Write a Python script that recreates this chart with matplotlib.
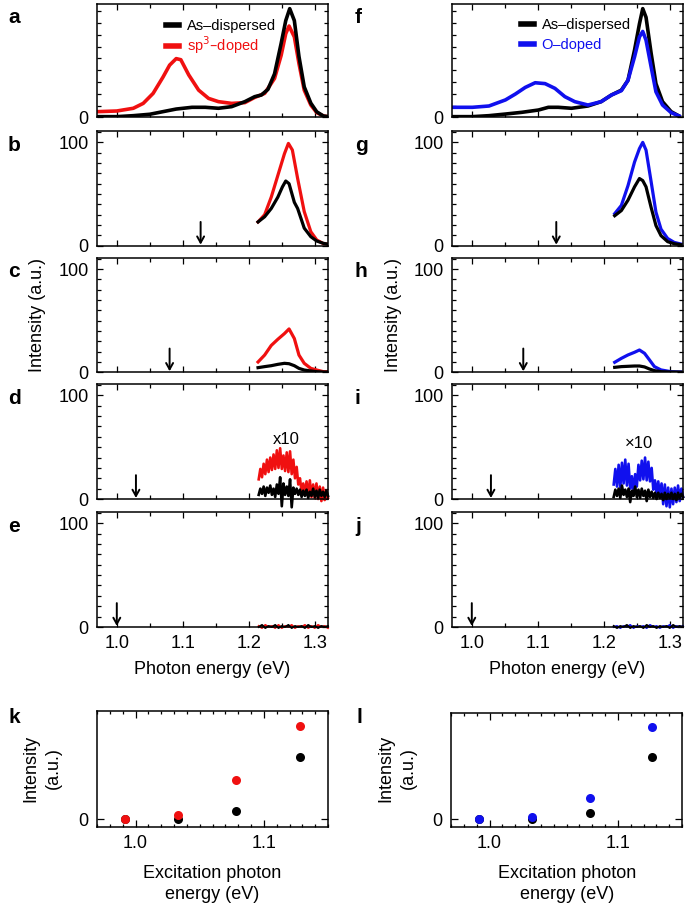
import numpy as np
import matplotlib
matplotlib.use('Agg')
import matplotlib.pyplot as plt
from matplotlib.ticker import MultipleLocator, FixedLocator, NullFormatter

plt.rcParams['font.family'] = ['Liberation Sans', 'DejaVu Sans']

RED = '#f01010'
BLUE = '#1010ee'

# ---------------- data ----------------
# panel a
E_a_black = [0.971, 1.000, 1.025, 1.050, 1.075, 1.090, 1.114, 1.134, 1.154, 1.174, 1.194, 1.209, 1.219,
             1.229, 1.239, 1.249, 1.256, 1.262, 1.269, 1.276, 1.284, 1.294, 1.303, 1.313, 1.320]
a_black = [0.6, 0.6, 1.5, 2.8, 5.8, 7.6, 9.2, 9.2, 8.3, 9.8, 14.4, 19, 20.5,
           25.7, 40, 68, 89, 100, 89, 56, 28, 13, 5, 1.2, 0.6]
E_a_red = [0.971, 1.000, 1.025, 1.040, 1.055, 1.070, 1.080, 1.090, 1.097, 1.109, 1.124, 1.139, 1.154, 1.174,
           1.194, 1.209, 1.224, 1.239, 1.249, 1.256, 1.261, 1.269, 1.276, 1.284, 1.294, 1.303, 1.313, 1.320]
a_red = [5.2, 5.8, 8.3, 12.8, 22, 37, 48, 54, 53, 39, 25, 17.4, 14.4, 12.8,
         13.5, 18.3, 22, 35.8, 57, 77, 84, 74, 49.5, 25, 11.3, 4.3, 1.2, 0.6]

# panel f
E_f_black = [0.968, 1.001, 1.026, 1.051, 1.076, 1.101, 1.116, 1.131, 1.151, 1.176, 1.196, 1.2115,
             1.2266, 1.2366, 1.2466, 1.254, 1.259, 1.264, 1.2717, 1.279, 1.289, 1.302, 1.314]
f_black = [0.6, 0.6, 1.5, 3, 4.6, 6.7, 9.2, 9.2, 8.3, 10.4, 14.4, 20.5,
           25, 34, 62, 86, 100, 92, 59, 31, 14.4, 5.2, 1.2]
E_f_blue = [0.968, 1.001, 1.026, 1.051, 1.066, 1.081, 1.096, 1.111, 1.126, 1.141, 1.156, 1.176, 1.196,
            1.2115, 1.2266, 1.2366, 1.2466, 1.254, 1.259, 1.264, 1.2717, 1.279, 1.289, 1.302, 1.314]
f_blue = [9.2, 9.2, 10.4, 16, 21.4, 27.5, 31.8, 31, 26.6, 19, 14.4, 11.3, 14.4,
          20.5, 24.5, 34, 55.7, 74, 79, 71, 46.5, 23.5, 11.3, 4.3, 1.2]

# panel b
E_b_black = [1.214, 1.224, 1.234, 1.244, 1.251, 1.256, 1.261, 1.269, 1.274, 1.284, 1.294, 1.303, 1.313, 1.320]
b_black = [23, 28, 36, 47, 57, 62.6, 60, 42, 36, 17, 8.7, 4.5, 2.3, 1.5]
E_b_red = [1.214, 1.224, 1.234, 1.244, 1.254, 1.260, 1.266, 1.274, 1.284, 1.294, 1.303, 1.313, 1.320]
b_red = [23, 30, 47, 68, 89, 99, 92.6, 65, 33, 13.5, 5.5, 2, 1.5]

# panel c
E_c = [1.214, 1.224, 1.234, 1.244, 1.254, 1.261, 1.269, 1.276, 1.284, 1.294, 1.303, 1.313, 1.320]
c_red = [10, 16.7, 26, 32, 37.5, 42, 32.7, 16.7, 8.7, 3.8, 2.2, 0.6, 0.5]
c_black = [4.5, 5.5, 6.4, 7.7, 8.7, 8.3, 6.4, 3.8, 2.2, 1.3, 0.6, 0.3, 0.3]

# panel g
E_g = [1.2165, 1.2266, 1.2366, 1.2466, 1.254, 1.259, 1.264, 1.2717, 1.279, 1.2867, 1.2967, 1.3067, 1.3168]
g_blue = [31, 39, 58, 81, 94, 100, 92.5, 62, 32.5, 16, 7, 3.2, 1.6]
g_black = [29, 34, 44, 57, 65, 63, 57, 37, 19.5, 9.7, 3.9, 1.9, 1]

# panel h
E_h = [1.2165, 1.2266, 1.2366, 1.2466, 1.254, 1.2617, 1.2692, 1.2767, 1.2867, 1.3017, 1.3168]
h_blue = [9.7, 13.5, 16.8, 19.4, 21.6, 18.4, 12, 5.5, 2.3, 0.6, 0.3]
h_black = [4.8, 5.5, 5.8, 6.1, 6.1, 5.2, 3.2, 1.6, 0.6, 0.3, 0.2]

# noisy panels d / i (x10), sampled every 2.5 meV from 1.215 to 1.320 eV
E_noise = np.linspace(1.215, 1.320, 43)
d_red = [19, 29, 21, 34, 24, 38, 26, 40, 28, 43, 29, 47, 30, 49, 29, 42, 27, 45, 26, 46, 24, 38,
         20, 31, 14, 20, 7, 15, 4, 17, 3, 18, 2, 14, 1, 15, 0, 12, -2, 11, -1, 8, 1]
d_black = [4, 10, 5, 12, 3, 11, 6, 13, 4, 10, 2, 14, 5, 21, -7, 15, 4, 12, 3, 19, -8, 11,
           5, 10, 4, 9, 2, 8, 3, 9, 1, 7, 3, 10, 2, 8, 1, 9, 3, 7, 2, 8, 3]
i_blue = [14, 29, 12, 33, 11, 35, 15, 38, 13, 34, 10, 22, 8, 24, 12, 33, 18, 37, 19, 40, 18, 36,
          17, 30, 9, 18, 5, 17, 3, 15, -5, 14, -7, 11, -8, 10, -5, 11, -3, 13, -2, 10, 2]
i_black = [2, 9, 3, 10, 1, 13, 4, 9, 2, 10, -3, 8, 3, 12, 2, 9, 1, 10, 3, 8, -2, 9,
           2, 7, 1, 6, 0, 6, 1, 5, -1, 6, 0, 5, 1, 6, 0, 5, -1, 6, 1, 5, 2]

# panels e / j, sampled every 5 meV
E_weak = np.linspace(1.215, 1.320, 22)
e_red = [1, -1, 2, 0, 1, -1, 2, -1, 1, 0, 2, -1, 1, 0, 2, -1, 1, -1, 2, 0, 1, -1]
e_black = [0, 2, -1, 1, 0, 2, -1, 1, 0, 2, -1, 1, 0, 1, -1, 2, 0, 1, -1, 1, 0, 1]
j_blue = [0, 1, -1, 1, 0, 2, -1, 1, 0, 1, -1, 2, 0, 1, -1, 1, 0, 2, -1, 1, 0, 1]
j_black = [1, -1, 1, 0, 2, -1, 1, 0, 1, -1, 2, 0, 1, -1, 1, 0, 1, -1, 2, 0, 1, 0]

# excitation energies (arrows) for b-e and g-j
arrow_left = [1.127, 1.080, 1.029, 1.000]
arrow_right = [1.128, 1.078, 1.029, 1.000]

# panels k / l
k_x = [0.992, 1.033, 1.078, 1.128]
k_black = [0, 0, 9.2, 66.5]
k_red = [0, 4.3, 42, 100]
l_x = [0.992, 1.033, 1.078, 1.127]
l_black = [0, 0, 6.4, 68]
l_blue = [0, 2.9, 22.7, 100]

# ---------------- figure ----------------
W, H = 685, 907
fig = plt.figure(figsize=(W / 100, H / 100), dpi=100)


def ax_px(l, t, r, b):
    return fig.add_axes([l / W, 1 - b / H, (r - l) / W, (b - t) / H])


def style(ax):
    ax.tick_params(which='both', direction='in', top=True, right=True, labelsize=13, width=0.9)
    ax.tick_params(which='major', length=4, pad=6)
    ax.tick_params(which='minor', length=3)
    for s in ax.spines.values():
        s.set_linewidth(1.1)


XLIM = (0.97, 1.32)
rows = [(4.3, 117.3), (131, 245.7), (257.7, 372.3), (384, 499), (511.7, 627)]
cols = [(97, 328), (452, 683)]

axes = {}
for ci, (l, r) in enumerate(cols):
    for ri, (t, b) in enumerate(rows):
        ax = ax_px(l, t, r, b)
        style(ax)
        ax.set_xlim(*XLIM)
        ax.xaxis.set_major_locator(MultipleLocator(0.1))
        ax.xaxis.set_minor_locator(MultipleLocator(0.05))
        if ri < 4:
            ax.xaxis.set_major_formatter(NullFormatter())
        else:
            ax.xaxis.set_major_formatter(plt.FuncFormatter(lambda v, p: f'{v:.1f}'))
        if ri == 0:
            ax.set_ylim(0, 104)
            ax.yaxis.set_major_locator(FixedLocator([0]))
            ax.yaxis.set_minor_locator(MultipleLocator(10.85))
        else:
            ax.set_ylim(0, 111)
            ax.yaxis.set_major_locator(FixedLocator([0, 100]))
            ax.yaxis.set_minor_locator(MultipleLocator(10))
        axes[(ci, ri)] = ax

# panel a
ax = axes[(0, 0)]
lr, = ax.plot(E_a_red, a_red, color=RED, lw=2.6, label='sp$^3$–doped')
lb, = ax.plot(E_a_black, a_black, color='black', lw=2.6, label='As–dispersed')
# panel f
ax2 = axes[(1, 0)]
lb2, = ax2.plot(E_f_black, f_black, color='black', lw=2.6, label='As–dispersed')
lbl2, = ax2.plot(E_f_blue, f_blue, color=BLUE, lw=2.6, label='O–doped')
for a_, hs, yb, sp in ((ax, [lb, lr], 0.87, 0.12), (ax2, [lb2, lbl2], 0.88, 0.4)):
    leg = a_.legend(handles=hs, loc='upper left', bbox_to_anchor=(0.30, yb), frameon=False,
                    fontsize=10.5, handlelength=0.85, handletextpad=0.55, labelspacing=sp,
                    borderpad=0, borderaxespad=0, labelcolor='linecolor')
    for h in leg.legend_handles:
        h.set_linewidth(4)

# panels b, c
ax = axes[(0, 1)]
ax.plot(E_b_red, b_red, color=RED, lw=2.3)
ax.plot(E_b_black, b_black, color='black', lw=2.3)
ax = axes[(0, 2)]
ax.plot(E_c, c_red, color=RED, lw=2.3)
ax.plot(E_c, c_black, color='black', lw=2.3)
# panels g, h
ax = axes[(1, 1)]
ax.plot(E_g, g_blue, color=BLUE, lw=2.3)
ax.plot(E_g, g_black, color='black', lw=2.3)
ax = axes[(1, 2)]
ax.plot(E_h, h_blue, color=BLUE, lw=2.3)
ax.plot(E_h, h_black, color='black', lw=2.3)
# panels d, i
ax = axes[(0, 3)]
ax.plot(E_noise, d_red, color=RED, lw=1.9, clip_on=False)
ax.plot(E_noise, d_black, color='black', lw=1.9, clip_on=False)
ax.text(1.256, 57, 'x10', ha='center', va='center', fontsize=12)
ax = axes[(1, 3)]
ax.plot(E_noise, i_blue, color=BLUE, lw=1.9, clip_on=False)
ax.plot(E_noise, i_black, color='black', lw=1.9, clip_on=False)
ax.text(1.254, 54, '×10', ha='center', va='center', fontsize=12)
# panels e, j
ax = axes[(0, 4)]
ax.plot(E_weak, e_red, color=RED, lw=1.4, clip_on=False)
ax.plot(E_weak, e_black, color='black', lw=1.4, clip_on=False)
ax = axes[(1, 4)]
ax.plot(E_weak, j_blue, color=BLUE, lw=1.4, clip_on=False)
ax.plot(E_weak, j_black, color='black', lw=1.4, clip_on=False)

# arrows
for ci, arr in ((0, arrow_left), (1, arrow_right)):
    for k, e in enumerate(arr):
        ax = axes[(ci, k + 1)]
        ax.annotate('', xy=(e, 1), xytext=(e, 23),
                    arrowprops=dict(arrowstyle='->,head_length=0.45,head_width=0.25', lw=1.4, color='black',
                                    shrinkA=0, shrinkB=0))

# panels k, l
for (l, r, t, b), xs, blk, col, cc in (((97, 328, 710.7, 826.7), k_x, k_black, k_red, RED),
                                       ((451, 682, 712.7, 826.7), l_x, l_black, l_blue, BLUE)):
    ax = ax_px(l, t, r, b)
    style(ax)
    ax.plot(xs, blk, 'o', color='black', ms=6.5, mec='none')
    ax.plot(xs, col, 'o', color=cc, ms=6.5, mec='none')
    ax.set_xlim(0.97, 1.15)
    ax.set_ylim(-8, 116)
    ax.xaxis.set_major_locator(MultipleLocator(0.1))
    ax.xaxis.set_minor_locator(MultipleLocator(0.01))
    ax.xaxis.set_major_formatter(plt.FuncFormatter(lambda v, p: f'{v:.1f}'))
    ax.yaxis.set_major_locator(FixedLocator([0]))
    ax.tick_params(which='major', length=5)
    ax.tick_params(which='minor', length=2.5)

# labels
fs = 13
fig.text(38 / W, 1 - 315 / H, 'Intensity (a.u.)', rotation=90, ha='center', va='center', fontsize=fs)
fig.text(394 / W, 1 - 315 / H, 'Intensity (a.u.)', rotation=90, ha='center', va='center', fontsize=fs)
fig.text(212.5 / W, 1 - 670 / H, 'Photon energy (eV)', ha='center', va='center', fontsize=fs)
fig.text(567.5 / W, 1 - 670 / H, 'Photon energy (eV)', ha='center', va='center', fontsize=fs)
fig.text(212.5 / W, 1 - 884 / H, 'Excitation photon\nenergy (eV)', ha='center', va='center',
         fontsize=fs, linespacing=1.25)
fig.text(567.5 / W, 1 - 884 / H, 'Excitation photon\nenergy (eV)', ha='center', va='center',
         fontsize=fs, linespacing=1.25)
fig.text(42 / W, 1 - 768 / H, 'Intensity\n(a.u.)', rotation=90, ha='center', va='center',
         fontsize=fs, linespacing=1.45, multialignment='center')
fig.text(397 / W, 1 - 768 / H, 'Intensity\n(a.u.)', rotation=90, ha='center', va='center',
         fontsize=fs, linespacing=1.45, multialignment='center')

letters = [('a', 8, 23), ('b', 8, 151), ('c', 8, 276.7), ('d', 8, 404), ('e', 8, 531.7), ('k', 8, 723),
           ('f', 355, 23), ('g', 355, 151), ('h', 355, 276.7), ('i', 355, 404), ('j', 355, 531.7),
           ('l', 357, 723)]
for t, x, y in letters:
    fig.text(x / W, 1 - y / H, t, fontsize=15, fontweight='bold', ha='left', va='baseline')

fig.savefig('out.png', dpi=100)
